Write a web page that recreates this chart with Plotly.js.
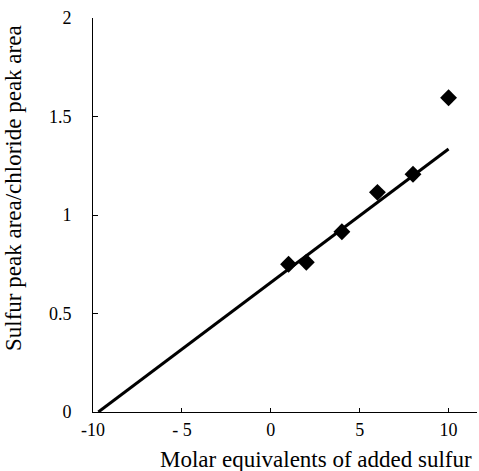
<!DOCTYPE html>
<html>
<head>
<meta charset="utf-8">
<script src="https://cdn.plot.ly/plotly-3.0.1.min.js"></script>
<style>html,body{margin:0;padding:0;background:#fff;}#chart{width:479px;height:471px;}</style>
</head>
<body>
<div id="chart"></div>
<script>
// Measured points
const equivalents = [1, 2, 4, 6, 8, 10];
const peakRatio = [0.75, 0.76, 0.915, 1.115, 1.207, 1.595];
// Fitted regression line endpoints (as drawn)
const fitX = [-9.7, 10];
const fitY = [0, 1.335];
// Tick labels
const xTickVals = [-10, -5, 0, 5, 10];
const xTickText = ['-10', '- 5', '0', '5', '10'];
const yTickVals = [0, 0.5, 1, 1.5, 2];
const yTickText = ['0', '0.5', '1', '1.5', '2'];
const xTitle = 'Molar equivalents of added sulfur';
const yTitle = 'Sulfur peak area/chloride peak area';

const fam = '"Liberation Serif", serif';

const traces = [
  {x: fitX, y: fitY, mode: 'lines', line: {color: '#000', width: 3}, hoverinfo: 'skip', showlegend: false},
  {x: equivalents, y: peakRatio, mode: 'markers', marker: {symbol: 'diamond', size: 13, color: '#000'}, showlegend: false}
];

const plotL = 93, plotR = 2, plotT = 18, plotB = 59;
const plotW = 479 - plotL - plotR, plotH = 471 - plotT - plotB;
const px2x = p => (p - plotL) / plotW;
const px2y = p => (471 - plotB - p) / plotH;

const layout = {
  width: 479, height: 471,
  margin: {l: plotL, r: plotR, t: plotT, b: plotB},
  paper_bgcolor: '#fff', plot_bgcolor: '#fff',
  font: {family: fam, size: 18, color: '#000'},
  showlegend: false,
  xaxis: {
    range: [-10, 11.6], showgrid: false, zeroline: false,
    showline: true, linecolor: '#000', linewidth: 1,
    ticks: 'inside', ticklen: 4, tickcolor: '#000',
    tickvals: xTickVals, ticktext: xTickText,
    ticklabelstandoff: 1,
    tickfont: {family: fam, size: 18, color: '#000'}
  },
  yaxis: {
    range: [0, 2], showgrid: false, zeroline: false,
    showline: true, linecolor: '#000', linewidth: 1,
    ticks: 'inside', ticklen: 5, tickcolor: '#000',
    tickvals: yTickVals, ticktext: yTickText,
    ticklabelstandoff: 17,
    tickfont: {family: fam, size: 18, color: '#000'}
  },
  annotations: [
    {text: xTitle, xref: 'paper', yref: 'paper',
     x: px2x(316), y: px2y(459), xanchor: 'center', yanchor: 'middle',
     showarrow: false, font: {family: fam, size: 23, color: '#000'}},
    {text: yTitle, xref: 'paper', yref: 'paper', textangle: -90,
     x: px2x(14), y: px2y(188), xanchor: 'center', yanchor: 'middle',
     showarrow: false, font: {family: fam, size: 23, color: '#000'}}
  ]
};

Plotly.newPlot('chart', traces, layout, {displayModeBar: false, staticPlot: true});
</script>
</body>
</html>
